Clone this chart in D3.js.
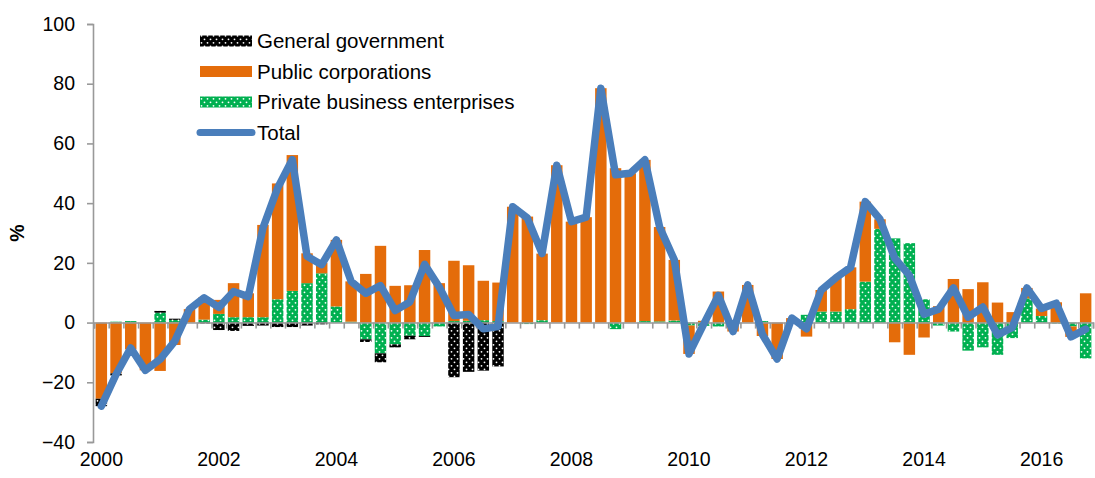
<!DOCTYPE html>
<html>
<head>
<meta charset="utf-8">
<script src="https://cdn.jsdelivr.net/npm/d3@7"></script>
<style>
  body { margin: 0; background: #fff; }
  text { font-family: "Liberation Sans", Arial, sans-serif; }
</style>
</head>
<body>
<svg id="chart" width="1095" height="478"></svg>
<script>
// quarterly contributions, 2000 Q1 .. 2016 Q4
const years = ["2000", "2002", "2004", "2006", "2008", "2010", "2012", "2014", "2016"]
const yTicks = [-40, -20, 0, 20, 40, 60, 80, 100]

const generalGov = [-2.5, -0.7, 0, 0, 0.6, 0.4, 0, -0.3, -2.5, -2.8, -1.1, -1, -1.5, -1.5, -1, -0.6,
  0, 0, -0.9, -3, -1, -1.2, -0.3, 0, -18.3, -16.5, -16.1, -14.7, 0, 0, 0, 0,
  0, 0, 0, 0, 0, 0, 0, 0, 0, 0, 0, 0, 0, 0, 0, 0,
  0, 0, 0, 0, 0, 0, 0, 0, 0, 0, 0, 0, 0, 0, 0, 0,
  0, 0, 0, 0]
const publicCorp = [-25.5, -17, -9, -16, -16.2, -7.5, 4.5, 7.5, 4.7, 11.4, 8, 30.9, 38.8, 45.5, 10, 3.5,
  22.3, 13.5, 16.3, 25.7, 12.3, 12.5, 24.3, 13.2, 20.2, 18.6, 13.2, 12.9, 38.8, 35.5, 22.3, 52.7,
  33.8, 35.3, 78.5, 51.7, 50, 54, 31.6, 20.3, -9.5, 0.6, 10.4, -2.5, 12.6, -4.5, -12.2, 1.5,
  -4.7, 7.2, 11.3, 14, 26.8, 3.2, -6.6, -10.8, -5, 5.5, 14.6, 11.2, 13.5, 6.7, 3.5, 3.5,
  2.5, 6.8, -3.5, 9.8]
const privateBiz = [0, 0.3, 0.5, 0, 3.3, 0.9, 0, 1, 2.9, 1.8, 1.8, 1.8, 7.8, 10.6, 13.2, 16.5,
  5.4, 0.3, -5.6, -10.3, -7.3, -4.4, -4.5, -1.3, 0.5, 0.6, 0.8, 0.5, 0, -0.5, 0.8, 0,
  0, 0, 0, -2.2, 0, 0.5, 0.4, 0.7, -1, -1.1, -1.3, -0.5, 0, 0.5, 0, 0,
  2.6, 3.7, 3.7, 4.5, 13.7, 31.4, 28.2, 26.6, 7.8, -1, -3, -9.4, -8.3, -10.8, -5.2, 8.1,
  2.2, -0.3, -1.3, -12]
const total = [-28, -17.4, -8.5, -16, -12.3, -6.2, 4.5, 8.3, 5.1, 10.4, 8.7, 31.7, 45.1, 54.6, 22.2, 19.4,
  27.7, 13.8, 9.8, 12.4, 4, 6.9, 19.5, 11.9, 2.4, 2.7, -2.1, -1.3, 38.8, 35, 23.1, 52.7,
  33.8, 35.3, 78.5, 49.5, 50, 54.5, 32, 21, -10.5, -0.5, 9.1, -3, 12.6, -4, -12.2, 1.5,
  -2.1, 10.9, 15, 18.5, 40.5, 34.6, 21.6, 15.8, 2.8, 4.5, 11.6, 1.8, 5.2, -4.1, -1.7, 11.6,
  4.7, 6.5, -4.8, -2.2]

const seriesNames = ["General government", "Public corporations", "Private business enterprises", "Total"]

const dimensions = {
  width: 1095,
  height: 478,
  margin: { top: 24, right: 2, bottom: 36, left: 94 },
}

const svg = d3.select("#chart")

// dotted fills
const defs = svg.append("defs")
function dotPattern(id, bg) {
  const p = defs.append("pattern")
    .attr("id", id)
    .attr("patternUnits", "userSpaceOnUse")
    .attr("width", 6)
    .attr("height", 7)
  p.append("rect").attr("width", 6).attr("height", 7).attr("fill", bg)
  p.append("circle").attr("cx", 1.5).attr("cy", 1.8).attr("r", 0.9).attr("fill", "#fff")
  p.append("circle").attr("cx", 4.5).attr("cy", 5.3).attr("r", 0.9).attr("fill", "#fff")
}
dotPattern("govDots", "#000")
dotPattern("privDots", "#00b050")

const fills = {
  priv: "url(#privDots)",
  pub: "#e46c0a",
  gov: "url(#govDots)",
}

const rows = total.map((t, i) => ({ i: i, priv: privateBiz[i], pub: publicCorp[i], gov: generalGov[i] }))

const stack = d3.stack()
  .keys(["priv", "pub", "gov"])
  .offset(d3.stackOffsetDiverging)
const stacked = stack(rows)

const xScale = d3.scaleBand()
  .domain(d3.range(total.length))
  .range([dimensions.margin.left, dimensions.width - dimensions.margin.right])
  .paddingInner(0.22)
  .paddingOuter(0.11)

// boundaries between quarters for tick marks
const xEdge = d3.scaleLinear()
  .domain([0, total.length])
  .range([dimensions.margin.left, dimensions.width - dimensions.margin.right])

const yScale = d3.scaleLinear()
  .domain([-40, 100])
  .range([dimensions.height - dimensions.margin.bottom, dimensions.margin.top])

// y axis
const yAxis = d3.axisLeft(yScale).tickValues(yTicks).tickSize(6).tickPadding(12)
const yAxisGroup = svg.append("g")
  .attr("transform", `translate(${dimensions.margin.left - 1},0)`)
  .call(yAxis)
yAxisGroup.selectAll("path, line").attr("stroke", "#999").attr("stroke-width", 1.6)
yAxisGroup.selectAll("text").attr("font-size", "19.5px").attr("fill", "#000")
  .attr("font-family", "Liberation Sans, Arial, sans-serif")

// bars
svg.append("g")
  .selectAll("g")
  .data(stacked)
  .enter()
  .append("g")
  .attr("fill", d => fills[d.key])
  .selectAll("rect")
  .data(d => d)
  .enter()
  .append("rect")
  .attr("x", d => xScale(d.data.i))
  .attr("width", xScale.bandwidth())
  .attr("y", d => yScale(Math.max(d[0], d[1])))
  .attr("height", d => Math.abs(yScale(d[0]) - yScale(d[1])))

// zero axis with quarter ticks
const xTickAxis = d3.axisBottom(xEdge).tickValues(d3.range(total.length + 1)).tickSize(6).tickFormat("")
const zeroAxis = svg.append("g")
  .attr("transform", `translate(0,${yScale(0)})`)
  .call(xTickAxis)
zeroAxis.selectAll("path, line").attr("stroke", "#999").attr("stroke-width", 1.6)

// year labels
const xLabelAxis = d3.axisBottom(xScale)
  .tickValues(years.map((y, k) => k * 8))
  .tickFormat((d, k) => years[k])
  .tickSize(0)
const xLabels = svg.append("g")
  .attr("transform", `translate(0,${dimensions.height - dimensions.margin.bottom})`)
  .call(xLabelAxis)
xLabels.select(".domain").remove()
xLabels.selectAll("text").attr("font-size", "19.5px").attr("fill", "#000").attr("dy", "1.1em")
  .attr("font-family", "Liberation Sans, Arial, sans-serif")

// total line
const line = d3.line()
  .x((d, i) => xScale(i) + xScale.bandwidth() / 2)
  .y(d => yScale(d))
svg.append("path")
  .datum(total)
  .attr("d", line)
  .attr("fill", "none")
  .attr("stroke", "#4a7ebb")
  .attr("stroke-width", 7.5)
  .attr("stroke-linejoin", "round")
  .attr("stroke-linecap", "round")

// y title
svg.append("text")
  .text("%")
  .attr("transform", "translate(24,233) rotate(-90)")
  .attr("text-anchor", "middle")
  .attr("font-size", "19.5px")
  .attr("font-weight", "bold")

// legend
const legend = svg.append("g").attr("transform", "translate(200,41)")
const legendFills = [fills.gov, fills.pub, fills.priv]
legend.selectAll("rect")
  .data(legendFills)
  .enter()
  .append("rect")
  .attr("x", 0)
  .attr("y", (d, i) => i * 30.5 - 5.5)
  .attr("width", 52)
  .attr("height", 11)
  .attr("fill", d => d)
legend.append("line")
  .attr("x1", 0).attr("x2", 52)
  .attr("y1", 91.5).attr("y2", 91.5)
  .attr("stroke", "#4a7ebb")
  .attr("stroke-width", 7)
  .attr("stroke-linecap", "round")
legend.selectAll("text")
  .data(seriesNames)
  .enter()
  .append("text")
  .attr("x", 57)
  .attr("y", (d, i) => i * 30.5)
  .attr("dy", "0.35em")
  .attr("font-size", "20.5px")
  .text(d => d)
</script>
</body>
</html>
